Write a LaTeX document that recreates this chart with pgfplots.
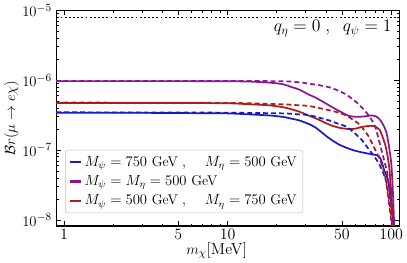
\documentclass[border=0pt]{standalone}
\usepackage{pgfplots}
\pgfplotsset{compat=1.18}
\definecolor{cblue}{RGB}{25,25,200}
\definecolor{cpurple}{RGB}{140,20,150}
\definecolor{cred}{RGB}{180,25,25}
\begin{document}
\begin{tikzpicture}
\begin{axis}[
  scale only axis,
  width=280pt, height=176pt,
  xmode=log, ymode=log,
  xmin=0.895, xmax=112, ymin=8.2e-9, ymax=1e-5,
  xtick={1,5,10,50,100}, xticklabels={1,5,10,50,100},
  minor xtick={2,3,4,6,7,8,9,20,30,40,60,70,80,90},
  ytick={1e-8,1e-7,1e-6,1e-5},
  tick label style={font=\fontsize{13}{15}\selectfont},
  xticklabel style={yshift=1pt},
  tick align=inside, xtick pos=both, ytick pos=both,
  major tick length=4pt, minor tick length=2pt,
  every tick/.style={black, line width=0.6pt},
  axis line style={line width=1pt},
  xlabel={$m_\chi$[MeV]},
  ylabel={$\mathcal{B}r(\mu\to e\chi)$},
  label style={font=\fontsize{13}{15}\selectfont},
  xlabel style={yshift=5pt, xshift=-9pt},
  ylabel style={yshift=-4pt},
  legend style={at={(0.026,0.06)}, anchor=south west, draw=gray!50, rounded corners=1.5pt, fill=white, font=\fontsize{11.5}{13.5}\selectfont, row sep=2pt, inner sep=3pt},
  legend cell align=left,
  legend image code/.code={\draw[#1] (0pt,0pt) -- (9pt,0pt);},
  every axis plot/.append style={line width=1.4pt},
]
\addlegendimage{cblue, line width=1.7pt}
\addlegendentry{$M_\psi = 750$ GeV$\;,\;\;\;\; M_\eta = 500$ GeV}
\addlegendimage{cpurple, line width=1.7pt}
\addlegendentry{$M_\psi = M_\eta = 500$ GeV}
\addlegendimage{cred, line width=1.7pt}
\addlegendentry{$M_\psi = 500$ GeV$\;,\;\;\;\; M_\eta = 750$ GeV}
% dotted bound
\addplot[black, dotted, line width=0.9pt, forget plot] coordinates {(0.8,8e-6) (120,8e-6)};
% blue solid
\addplot[cblue, smooth, tension=0.4, forget plot] coordinates {
(0.8,3.43e-7) (1,3.43e-7) (3,3.41e-7) (6,3.38e-7) (10,3.35e-7) (13.7,3.24e-7) (18,3.13e-7) (21.7,2.99e-7) (24,2.85e-7) (27.4,2.66e-7) (31.6,2.34e-7) (34.6,2.09e-7) (41.7,1.48e-7) (48,1.2e-7) (55,1.05e-7) (60,9.8e-8) (66,9.3e-8) (76,8.7e-8) (83.6,8.3e-8) (87.5,6.8e-8) (91,5e-8) (95.6,3.8e-8) (100,1.78e-8) (103.5,7.9e-9) (105,4e-9)};
% purple solid
\addplot[cpurple, smooth, tension=0.4, forget plot] coordinates {
(0.8,9.7e-7) (1,9.7e-7) (5,9.7e-7) (10,9.66e-7) (13.7,9.55e-7) (18,9.23e-7) (21.7,8.79e-7) (24,8.13e-7) (27.4,7.33e-7) (31.6,6.17e-7) (34.6,5.62e-7) (41.7,4.37e-7) (48,3.63e-7) (55,3.09e-7) (62,2.99e-7) (70,3.05e-7) (76,3.13e-7) (81,3.02e-7) (85,2.75e-7) (89,2.34e-7) (93.5,1.78e-7) (97,1.12e-7) (100,6.6e-8) (102,3.16e-8) (104,1e-8) (105,4e-9)};
% red solid
\addplot[cred, smooth, tension=0.4, forget plot] coordinates {
(0.8,4.73e-7) (1,4.73e-7) (5,4.71e-7) (10,4.68e-7) (13.7,4.52e-7) (18,4.37e-7) (21.7,4.12e-7) (24,3.89e-7) (27.4,3.55e-7) (31.6,3.09e-7) (34.6,2.85e-7) (41.7,2.32e-7) (48,2.09e-7) (55,2.0e-7) (60,2.02e-7) (66,2.14e-7) (72,2.21e-7) (78,2.21e-7) (85,1.95e-7) (91.3,1.26e-7) (94.5,8.9e-8) (97.6,5.25e-8) (100,2.5e-8) (102,1.12e-8) (103.5,7e-9) (105,2.5e-9)};
% blue dashed
\addplot[cblue, dash pattern=on 4pt off 2.5pt, smooth, tension=0.4, forget plot] coordinates {
(0.8,3.47e-7) (1,3.47e-7) (5,3.45e-7) (10,3.43e-7) (21.7,3.35e-7) (27.4,3.24e-7) (31.6,3.16e-7) (41.7,2.66e-7) (47,2.4e-7) (52.6,2.19e-7) (58,1.86e-7) (66,1.4e-7) (72,1.07e-7) (76,9.1e-8) (83.6,6.6e-8) (89,4.8e-8) (93.5,3.47e-8) (97.6,1.78e-8) (102.3,7.9e-9) (104,4e-9)};
% purple dashed
\addplot[cpurple, dash pattern=on 4pt off 2.5pt, smooth, tension=0.4, forget plot] coordinates {
(0.8,9.77e-7) (1,9.77e-7) (10,9.75e-7) (21.7,9.66e-7) (27.4,9.33e-7) (31.6,8.91e-7) (36,8.51e-7) (41.7,7.94e-7) (47,7.16e-7) (52.6,6.31e-7) (58,5.37e-7) (63,4.57e-7) (68,3.8e-7) (72.6,3.16e-7) (76.5,2.63e-7) (80,2.14e-7) (85,1.26e-7) (91.3,6.6e-8) (95,4.47e-8) (98,2.5e-8) (101,1e-8) (103,4e-9)};
% red dashed
\addplot[cred, dash pattern=on 4pt off 2.5pt, smooth, tension=0.4, forget plot] coordinates {
(0.8,4.79e-7) (1,4.79e-7) (10,4.73e-7) (21.7,4.52e-7) (27.4,4.37e-7) (31.6,4.27e-7) (41.7,3.72e-7) (47,3.47e-7) (52.6,3.16e-7) (58,2.75e-7) (63,2.4e-7) (66,2.14e-7) (72.6,1.58e-7) (80,1e-7) (87.5,6.3e-8) (93,3.55e-8) (98,1.41e-8) (101,7.9e-9) (103,4e-9)};
\node[anchor=east, font=\fontsize{14}{16}\selectfont] at (rel axis cs:0.99,0.915) {$q_\eta = 0\;,\;\; q_\psi = 1$};
\end{axis}
\end{tikzpicture}
\end{document}
